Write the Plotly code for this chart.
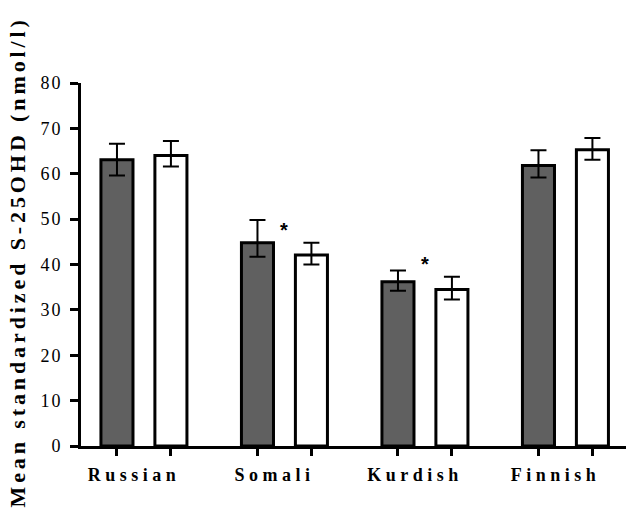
import plotly.graph_objects as go

# ---------------- data ----------------
categories = ["Russian", "Somali", "Kurdish", "Finnish"]

dark_means = [63.1, 44.8, 36.2, 61.8]
dark_err_plus = [3.5, 5.0, 2.5, 3.4]
dark_err_minus = [3.5, 3.1, 2.0, 2.6]

white_means = [64.0, 42.1, 34.5, 65.3]
white_err_plus = [3.2, 2.7, 2.8, 2.6]
white_err_minus = [2.4, 2.1, 2.2, 2.2]

significance = ["", "*", "*", ""]

y_tick_values = [0, 10, 20, 30, 40, 50, 60, 70, 80]
y_title = "Mean standardized S-25OHD (nmol/l)"

# ---------------- style ----------------
SERIF = "Liberation Serif, Times New Roman, serif"
DARK = "#606060"
BARGAP = 0.232
BARGROUPGAP = 0.406
XRANGE = [-0.448, 3.431]


def spaced(text, px):
    return f'<span style="letter-spacing:{px}px">{text}</span>'


fig = go.Figure()

fig.add_trace(go.Bar(
    x=categories, y=dark_means, name="dark",
    marker=dict(color=DARK, line=dict(color="black", width=3)),
    error_y=dict(type="data", symmetric=False, array=dark_err_plus,
                 arrayminus=dark_err_minus, color="black", thickness=2, width=8),
    showlegend=False, hoverinfo="skip",
))
fig.add_trace(go.Bar(
    x=categories, y=white_means, name="white",
    marker=dict(color="white", line=dict(color="black", width=3)),
    error_y=dict(type="data", symmetric=False, array=white_err_plus,
                 arrayminus=white_err_minus, color="black", thickness=2, width=8),
    showlegend=False, hoverinfo="skip",
))

# invisible trace so the overlaid tick axis is drawn
fig.add_trace(go.Scatter(x=[None], y=[None], xaxis="x2", yaxis="y",
                         mode="markers", showlegend=False, hoverinfo="skip"))

# tick positions at bar centres derived from the group layout
slot = (1 - BARGAP) / 2
bar_centres = [i + d for i in range(len(categories)) for d in (-slot / 2, slot / 2)]

annotations = []
for i, mark in enumerate(significance):
    if mark:
        annotations.append(dict(
            x=i, xref="x2", y=white_means[i] + white_err_plus[i], yref="y",
            text="<b>*</b>", showarrow=False, yanchor="bottom", xanchor="center",
            font=dict(family="Liberation Sans, Arial, sans-serif", size=20, color="black"),
        ))

annotations.append(dict(
    x=0, xref="paper", xshift=-64, y=0.5, yref="paper", yshift=2,
    text=spaced(f"<b>{y_title}</b>", 3.9), textangle=-90, showarrow=False,
    xanchor="center", yanchor="middle",
    font=dict(family=SERIF, size=22, color="black"),
))

fig.update_layout(
    width=626, height=513,
    margin=dict(l=81, r=0, t=83, b=67),
    paper_bgcolor="white", plot_bgcolor="white",
    barmode="group", bargap=BARGAP, bargroupgap=BARGROUPGAP,
    showlegend=False,
    annotations=annotations,
    xaxis=dict(
        type="category", range=XRANGE, showgrid=False, zeroline=False,
        showline=True, linecolor="black", linewidth=3, automargin=False,
        ticks="", tickvals=categories,
        ticktext=[spaced(c, 4.5) for c in categories],
        tickfont=dict(family=SERIF, size=18, color="black", weight="bold"),
        ticklabelstandoff=10, ticklabelshift=-10,
    ),
    xaxis2=dict(
        type="linear", overlaying="x", anchor="y", side="bottom",
        range=XRANGE, showgrid=False, zeroline=False, showline=False,
        ticks="outside", ticklen=9, tickwidth=3, tickcolor="black",
        tickvals=bar_centres, showticklabels=False, automargin=False,
    ),
    yaxis=dict(
        range=[0, 80], showgrid=False, zeroline=False,
        showline=True, linecolor="black", linewidth=3, automargin=False,
        ticks="outside", ticklen=8, tickwidth=3, tickcolor="black",
        tickvals=y_tick_values,
        ticktext=[spaced(str(v), 2) for v in y_tick_values],
        tickfont=dict(family=SERIF, size=18, color="black"),
        ticklabelstandoff=4,
    ),
)

fig.write_html("out.html", config={"displayModeBar": False},
               post_script="document.body.style.margin='0';")
